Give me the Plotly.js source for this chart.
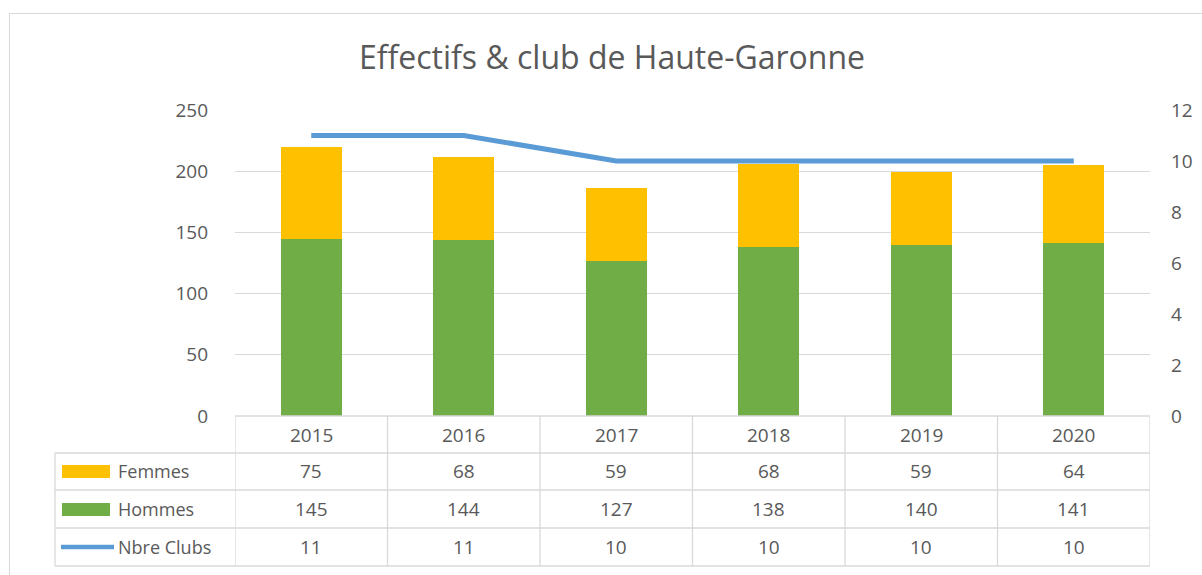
<!DOCTYPE html>
<html>
<head>
<meta charset="utf-8">
<script src="https://cdn.plot.ly/plotly-3.0.1.min.js"></script>
<style>
  html, body { margin: 0; padding: 0; background: #ffffff; overflow: hidden; }
  #frame { position: absolute; left: 9px; top: 13px; width: 1300px; height: 700px; border: 1px solid #d9d9d9; }
  #chart { position: absolute; left: 0; top: 0; width: 1202px; height: 575px; }
</style>
</head>
<body>
<div id="frame"></div>
<div id="chart"></div>
<script>
const years = ['2015', '2016', '2017', '2018', '2019', '2020'];
const femmes = [75, 68, 59, 68, 59, 64];
const hommes = [145, 144, 127, 138, 140, 141];
const clubs = [11, 11, 10, 10, 10, 10];
const seriesNames = ['Femmes', 'Hommes', 'Nbre Clubs'];
const chartTitle = 'Effectifs & club de Haute-Garonne';

const FONT = '"Liberation Sans Narrow", "Open Sans", sans-serif';
const colFemmes = '#ffc000';
const colHommes = '#70ad47';
const colClubs = '#5b9bd5';
const gridCol = '#d9d9d9';
const textCol = '#595959';

// layout geometry (pixels)
const W = 1202, H = 575;
const L = 235, R = 1150, T = 110, B = 416;
const pw = R - L, ph = B - T;
const px = x => (x - L) / pw;
const py = y => (B - y) / ph;

const traces = [
  { type: 'bar', name: seriesNames[1], x: years, y: hommes, marker: { color: colHommes }, width: 0.40, hoverinfo: 'x+y+name' },
  { type: 'bar', name: seriesNames[0], x: years, y: femmes, marker: { color: colFemmes }, width: 0.40, hoverinfo: 'x+y+name' },
  { type: 'scatter', mode: 'lines', name: seriesNames[2], x: years, y: clubs, yaxis: 'y2',
    line: { color: colClubs, width: 5, shape: 'linear' }, hoverinfo: 'x+y+name' }
];

const shapes = [];
const annotations = [];

// table lines
const rowLines = [453, 490, 528, 566];
rowLines.forEach(yy => {
  shapes.push({ type: 'line', xref: 'paper', yref: 'paper', x0: px(55), x1: 1, y0: py(yy), y1: py(yy), line: { color: gridCol, width: 1.3 } });
});
shapes.push({ type: 'line', xref: 'paper', yref: 'paper', x0: 0, x1: 1, y0: 0, y1: 0, line: { color: gridCol, width: 1.3 } });
for (let i = 0; i <= years.length; i++) {
  shapes.push({ type: 'line', xref: 'x', yref: 'paper', x0: i - 0.5, x1: i - 0.5, y0: 0, y1: py(566), line: { color: gridCol, width: 1.3 } });
}
shapes.push({ type: 'line', xref: 'paper', yref: 'paper', x0: px(55), x1: px(55), y0: py(453), y1: py(566), line: { color: gridCol, width: 1.3 } });

// legend keys
const rowCenters = [471, 509, 547];
shapes.push({ type: 'rect', xref: 'paper', yref: 'paper', x0: px(62), x1: px(110), y0: py(465), y1: py(478), fillcolor: colFemmes, line: { width: 0 } });
shapes.push({ type: 'rect', xref: 'paper', yref: 'paper', x0: px(62), x1: px(110), y0: py(503), y1: py(516), fillcolor: colHommes, line: { width: 0 } });
shapes.push({ type: 'line', xref: 'paper', yref: 'paper', x0: px(61), x1: px(114), y0: py(547), y1: py(547), line: { color: colClubs, width: 4.5 } });

seriesNames.forEach((n, k) => {
  annotations.push({ xref: 'paper', yref: 'paper', x: px(116), y: py(rowCenters[k]), text: n, showarrow: false,
    xanchor: 'left', yanchor: 'middle', font: { family: FONT, size: 18, color: textCol } });
});

// header row and values (category positions by index)
const tableRows = [femmes, hommes, clubs];
years.forEach((yr, i) => {
  annotations.push({ xref: 'x', yref: 'paper', x: i, y: py(435), text: yr, showarrow: false,
    xanchor: 'center', yanchor: 'middle', font: { family: FONT, size: 19, color: textCol } });
  tableRows.forEach((row, k) => {
    annotations.push({ xref: 'x', yref: 'paper', x: i, y: py(rowCenters[k]), text: String(row[i]), showarrow: false,
      xanchor: 'center', yanchor: 'middle', font: { family: FONT, size: 19, color: textCol } });
  });
});

const layout = {
  width: W, height: H,
  margin: { l: L, r: W - R, t: T, b: H - B, pad: 0 },
  paper_bgcolor: 'rgba(0,0,0,0)',
  plot_bgcolor: 'rgba(0,0,0,0)',
  showlegend: false,
  barmode: 'stack',
  title: { text: chartTitle, x: 612 / W, xref: 'container', xanchor: 'center', y: 1 - 58 / H, yref: 'container', yanchor: 'middle',
    font: { family: FONT, size: 32, color: textCol } },
  xaxis: { type: 'category', categoryarray: years, range: [-0.5, years.length - 0.5], showticklabels: false, showgrid: false,
    zeroline: false, showline: false, ticks: '' },
  yaxis: { range: [0, 250], dtick: 50, tick0: 0, showgrid: true, gridcolor: gridCol, gridwidth: 1.3, zeroline: false, showline: false,
    ticks: '', ticklabelstandoff: 26, tickfont: { family: FONT, size: 19, color: textCol } },
  yaxis2: { range: [0, 12], dtick: 2, tick0: 0, overlaying: 'y', side: 'right', showgrid: false, zeroline: false, showline: false,
    ticks: '', ticklabelstandoff: 20, tickfont: { family: FONT, size: 19, color: textCol } },
  shapes: shapes,
  annotations: annotations
};

Plotly.newPlot('chart', traces, layout, { staticPlot: true, displayModeBar: false });
</script>
</body>
</html>
